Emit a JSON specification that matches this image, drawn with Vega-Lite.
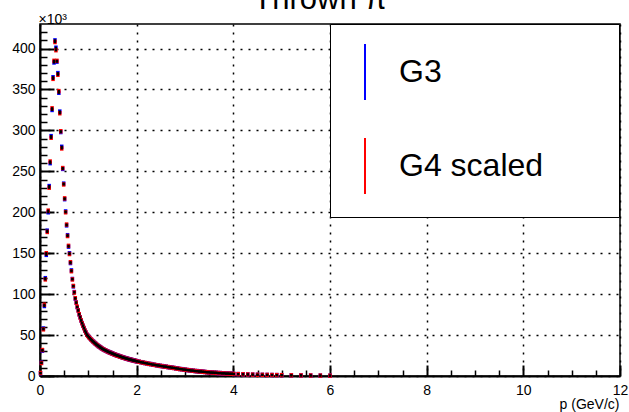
{
  "$schema": "https://vega.github.io/schema/vega-lite/v6.json",
  "width": 580,
  "height": 352,
  "autosize": "none",
  "padding": {"left": 40, "top": 24, "right": 9, "bottom": 36},
  "background": "white",
  "title": {"text": "Thrown π", "font": "Liberation Sans", "fontSize": 31, "fontWeight": "normal", "color": "black", "anchor": "middle", "frame": "group", "baseline": "alphabetic", "offset": -27.5, "dx": -10},
  "data": {"values": [
    {"p":0.01,"g3":3.4,"g4":3.7},{"p":0.03,"g3":16.3,"g4":15.9},{"p":0.05,"g3":30.9,"g4":31.7},{"p":0.07,"g3":58,"g4":57},
    {"p":0.09,"g3":85.5,"g4":87},{"p":0.11,"g3":119.5,"g4":118},{"p":0.13,"g3":148,"g4":150},{"p":0.15,"g3":177.5,"g4":176},
    {"p":0.17,"g3":200,"g4":202},{"p":0.19,"g3":232,"g4":230},{"p":0.21,"g3":260,"g4":262},{"p":0.23,"g3":293,"g4":291},
    {"p":0.25,"g3":325,"g4":327},{"p":0.27,"g3":365,"g4":363},{"p":0.29,"g3":383,"g4":385},{"p":0.31,"g3":410,"g4":408},
    {"p":0.33,"g3":401,"g4":398},{"p":0.35,"g3":384,"g4":385},{"p":0.37,"g3":370,"g4":368},{"p":0.39,"g3":346,"g4":348},
    {"p":0.41,"g3":323,"g4":321},{"p":0.43,"g3":298,"g4":299},{"p":0.45,"g3":280,"g4":278},{"p":0.47,"g3":253,"g4":254},
    {"p":0.49,"g3":235,"g4":234},{"p":0.51,"g3":216,"g4":217},{"p":0.53,"g3":201,"g4":200},{"p":0.55,"g3":184,"g4":185},
    {"p":0.57,"g3":172,"g4":171},{"p":0.59,"g3":158,"g4":159},{"p":0.61,"g3":150,"g4":149},{"p":0.63,"g3":138,"g4":139},
    {"p":0.65,"g3":129,"g4":128},{"p":0.67,"g3":118.5,"g4":118},{"p":0.69,"g3":109.5,"g4":110},{"p":0.71,"g3":102.5,"g4":102},
    {"p":0.73,"g3":94.6,"g4":95},{"p":0.75,"g3":89.8,"g4":89.5},{"p":0.77,"g3":84.2,"g4":84.5},{"p":0.79,"g3":80.3,"g4":80},
    {"p":0.81,"g3":75.3,"g4":75.5},{"p":0.83,"g3":71.8,"g4":71.5},{"p":0.85,"g3":67.8,"g4":68},{"p":0.87,"g3":64.7,"g4":64.5},
    {"p":0.89,"g3":61.3,"g4":61.5},{"p":0.91,"g3":58.6,"g4":58.5},{"p":0.93,"g3":55.4,"g4":55.5},{"p":0.95,"g3":53.1,"g4":53},
    {"p":0.97,"g3":50.4,"g4":50.5},{"p":0.99,"g3":49.1,"g4":49},{"p":1.01,"g3":47.5,"g4":47.6},{"p":1.03,"g3":46.4,"g4":46.3},
    {"p":1.05,"g3":44.9,"g4":45},{"p":1.07,"g3":43.9,"g4":43.8},{"p":1.09,"g3":42.5,"g4":42.6},{"p":1.11,"g3":41.6,"g4":41.5},
    {"p":1.13,"g3":40.3,"g4":40.4},{"p":1.15,"g3":39.5,"g4":39.4},{"p":1.17,"g3":38.3,"g4":38.4},{"p":1.19,"g3":37.6,"g4":37.5},
    {"p":1.21,"g3":36.5,"g4":36.6},{"p":1.23,"g3":35.8,"g4":35.7},{"p":1.25,"g3":34.8,"g4":34.9},{"p":1.27,"g3":34.2,"g4":34.1},
    {"p":1.29,"g3":33.2,"g4":33.3},{"p":1.31,"g3":32.7,"g4":32.6},{"p":1.33,"g3":31.9,"g4":32},{"p":1.35,"g3":31.5,"g4":31.4},
    {"p":1.37,"g3":30.7,"g4":30.8},{"p":1.39,"g3":30.3,"g4":30.2},{"p":1.41,"g3":29.5,"g4":29.6},{"p":1.43,"g3":29.2,"g4":29.1},
    {"p":1.45,"g3":28.5,"g4":28.6},{"p":1.47,"g3":28.2,"g4":28.1},{"p":1.49,"g3":27.5,"g4":27.6},{"p":1.51,"g3":27.2,"g4":27.1},
    {"p":1.53,"g3":26.5,"g4":26.6},{"p":1.55,"g3":26.2,"g4":26.1},{"p":1.57,"g3":25.6,"g4":25.7},{"p":1.59,"g3":25.3,"g4":25.2},
    {"p":1.61,"g3":24.7,"g4":24.8},{"p":1.63,"g3":24.5,"g4":24.4},{"p":1.65,"g3":23.9,"g4":24},{"p":1.67,"g3":23.7,"g4":23.6},
    {"p":1.69,"g3":23.1,"g4":23.2},{"p":1.71,"g3":22.9,"g4":22.8},{"p":1.73,"g3":22.3,"g4":22.4},{"p":1.75,"g3":22.1,"g4":22},
    {"p":1.77,"g3":21.6,"g4":21.7},{"p":1.79,"g3":21.4,"g4":21.3},{"p":1.81,"g3":20.9,"g4":21},{"p":1.83,"g3":20.7,"g4":20.6},
    {"p":1.85,"g3":20.2,"g4":20.3},{"p":1.87,"g3":20.1,"g4":20},{"p":1.89,"g3":19.6,"g4":19.7},{"p":1.91,"g3":19.5,"g4":19.4},
    {"p":1.93,"g3":19,"g4":19.1},{"p":1.95,"g3":18.9,"g4":18.8},{"p":1.97,"g3":18.4,"g4":18.5},{"p":1.99,"g3":18.3,"g4":18.2},
    {"p":2.01,"g3":17.9,"g4":18},{"p":2.05,"g3":17.5,"g4":17.4},{"p":2.09,"g3":16.8,"g4":16.9},{"p":2.13,"g3":16.5,"g4":16.4},
    {"p":2.17,"g3":15.8,"g4":15.9},{"p":2.21,"g3":15.5,"g4":15.4},{"p":2.25,"g3":14.8,"g4":14.9},{"p":2.29,"g3":14.6,"g4":14.5},
    {"p":2.33,"g3":13.9,"g4":14},{"p":2.37,"g3":13.7,"g4":13.6},{"p":2.41,"g3":13.1,"g4":13.2},{"p":2.45,"g3":12.9,"g4":12.8},
    {"p":2.49,"g3":12.3,"g4":12.4},{"p":2.53,"g3":12.1,"g4":12},{"p":2.57,"g3":11.5,"g4":11.6},{"p":2.61,"g3":11.4,"g4":11.3},
    {"p":2.65,"g3":10.8,"g4":10.9},{"p":2.69,"g3":10.7,"g4":10.6},{"p":2.73,"g3":10.1,"g4":10.2},{"p":2.77,"g3":9.9,"g4":9.8},
    {"p":2.81,"g3":9.3,"g4":9.4},{"p":2.85,"g3":9.1,"g4":9},{"p":2.89,"g3":8.5,"g4":8.6},{"p":2.93,"g3":8.4,"g4":8.3},
    {"p":2.97,"g3":7.8,"g4":7.9},{"p":3.01,"g3":7.7,"g4":7.6},{"p":3.05,"g3":7.2,"g4":7.3},{"p":3.09,"g3":7.1,"g4":7},
    {"p":3.13,"g3":6.6,"g4":6.7},{"p":3.17,"g3":6.5,"g4":6.4},{"p":3.21,"g3":6,"g4":6.1},{"p":3.25,"g3":6,"g4":5.9},
    {"p":3.29,"g3":5.5,"g4":5.6},{"p":3.33,"g3":5.5,"g4":5.4},{"p":3.37,"g3":5.1,"g4":5.2},{"p":3.41,"g3":5,"g4":4.9},
    {"p":3.45,"g3":4.6,"g4":4.7},{"p":3.49,"g3":4.6,"g4":4.5},{"p":3.53,"g3":4.2,"g4":4.3},{"p":3.57,"g3":4.2,"g4":4.1},
    {"p":3.61,"g3":3.9,"g4":4},{"p":3.65,"g3":3.9,"g4":3.8},{"p":3.69,"g3":3.5,"g4":3.6},{"p":3.73,"g3":3.6,"g4":3.5},
    {"p":3.77,"g3":3.2,"g4":3.3},{"p":3.81,"g3":3.3,"g4":3.2},{"p":3.85,"g3":2.9,"g4":3},{"p":3.89,"g3":3,"g4":2.9},
    {"p":3.93,"g3":2.7,"g4":2.8},{"p":3.97,"g3":2.8,"g4":2.7},{"p":4.01,"g3":2.4,"g4":2.5},{"p":4.1,"g3":2.3,"g4":2.3},
    {"p":4.2,"g3":2.1,"g4":2.1},{"p":4.3,"g3":1.9,"g4":1.9},{"p":4.4,"g3":1.7,"g4":1.7},{"p":4.5,"g3":1.5,"g4":1.5},
    {"p":4.6,"g3":1.4,"g4":1.4},{"p":4.7,"g3":1.3,"g4":1.3},{"p":4.8,"g3":1.2,"g4":1.2},{"p":4.9,"g3":1.1,"g4":1.1},
    {"p":5.0,"g3":1,"g4":1},{"p":5.2,"g3":0.8,"g4":0.8},{"p":5.4,"g3":0.7,"g4":0.7},{"p":5.6,"g3":0.6,"g4":0.6},
    {"p":5.8,"g3":0.5,"g4":0.5},{"p":6.0,"g3":0.4,"g4":0.4}
  ]},
  "transform": [{"fold": ["g3", "g4"], "as": ["series", "v"]}],
  "layer": [
    {
      "mark": {"type": "point", "shape": "M0,-1L0,1", "filled": false, "size": 20, "strokeWidth": 3.5, "opacity": 1},
      "encoding": {
        "x": {
          "field": "p", "type": "quantitative",
          "scale": {"domain": [0, 12], "nice": false, "zero": false},
          "axis": {
            "orient": "bottom", "values": [0, 2, 4, 6, 8, 10, 12],
            "tickSize": -11, "tickWidth": 2, "labelPadding": 18, "labelFlush": false,
            "grid": true, "gridDash": [2, 6], "gridColor": "black", "gridWidth": 1.5, "gridOpacity": 1,
            "title": "p (GeV/c)", "titleAlign": "right", "titleAnchor": "end", "titleBaseline": "alphabetic",
            "titleX": 579, "titleY": 32, "titleFontSize": 14
          }
        },
        "y": {
          "field": "v", "type": "quantitative",
          "scale": {"domain": [0, 430], "nice": false},
          "axis": {
            "orient": "left", "values": [0, 50, 100, 150, 200, 250, 300, 350, 400],
            "tickSize": -14, "tickWidth": 2, "labelPadding": 19,
            "grid": true, "gridDash": [2, 6], "gridColor": "black", "gridWidth": 1.5, "gridOpacity": 1,
            "title": "×10³", "titleAngle": 0, "titleAlign": "left", "titleBaseline": "alphabetic",
            "titleX": -2, "titleY": -1, "titleFontSize": 14
          }
        },
        "color": {
          "field": "series", "type": "nominal",
          "scale": {"domain": ["g3", "g4"], "range": ["#0000ff", "#ff0000"]},
          "legend": {
            "orient": "none", "legendX": 290, "legendY": 0, "direction": "vertical",
            "title": "\u00a0", "titleOrient": "right", "titleFontSize": 2, "titlePadding": 57,
            "padding": 19, "strokeColor": "black", "fillColor": "white",
            "symbolType": "M0,-1L0,1", "symbolSize": 3136, "symbolStrokeWidth": 2, "symbolFillColor": "transparent",
            "symbolOffset": -13,
            "labelExpr": "datum.label == 'g3' ? 'G3' : 'G4 scaled'",
            "labelFontSize": 32, "labelColor": "black", "labelOffset": 5, "labelLimit": 400, "rowPadding": 30
          }
        }
      }
    },
    {
      "mark": {"type": "square", "size": 5, "color": "black", "opacity": 1},
      "encoding": {
        "x": {
          "field": "p", "type": "quantitative",
          "axis": {
            "orient": "bottom", "values": [0.5, 1, 1.5, 2.5, 3, 3.5, 4.5, 5, 5.5, 6.5, 7, 7.5, 8.5, 9, 9.5, 10.5, 11, 11.5],
            "tickSize": -6, "tickWidth": 1.5, "labels": false, "domain": false, "grid": false, "title": null
          }
        },
        "y": {
          "field": "v", "type": "quantitative",
          "axis": {
            "orient": "left", "values": [10, 20, 30, 40, 60, 70, 80, 90, 110, 120, 130, 140, 160, 170, 180, 190, 210, 220, 230, 240, 260, 270, 280, 290, 310, 320, 330, 340, 360, 370, 380, 390, 410, 420],
            "tickSize": -7, "tickWidth": 1.5, "labels": false, "domain": false, "grid": false, "title": null
          }
        }
      }
    }
  ],
  "resolve": {"axis": {"x": "independent", "y": "independent"}},
  "config": {
    "font": "Liberation Sans",
    "view": {"stroke": "black", "strokeWidth": 1.5},
    "axis": {
      "labelFont": "Liberation Sans", "labelFontSize": 14, "labelColor": "black",
      "titleFont": "Liberation Sans", "titleFontWeight": "normal", "titleColor": "black",
      "domainColor": "black", "domainWidth": 2, "tickColor": "black"
    },
    "legend": {"labelFont": "Liberation Sans", "titleFont": "Liberation Sans"}
  }
}
